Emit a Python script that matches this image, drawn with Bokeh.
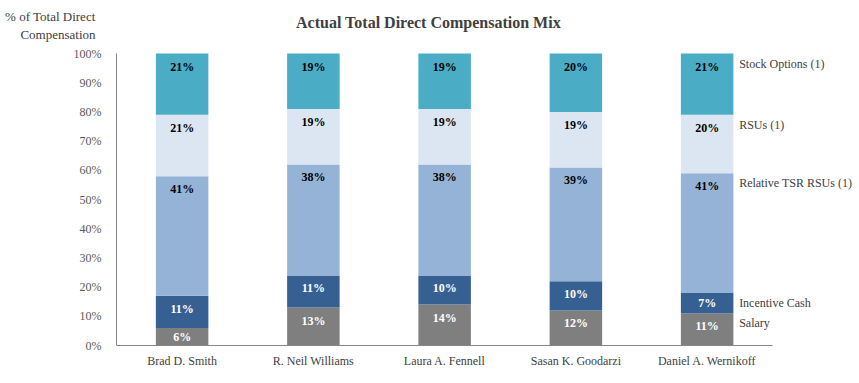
from bokeh.plotting import figure
from bokeh.models import ColumnDataSource, FixedTicker, PrintfTickFormatter, LinearAxis, Range1d
from bokeh.core.properties import value
from bokeh.embed import file_html
from bokeh.resources import INLINE

executives = ["Brad D. Smith", "R. Neil Williams", "Laura A. Fennell", "Sasan K. Goodarzi", "Daniel A. Wernikoff"]
components = ["Salary", "Incentive Cash", "Relative TSR RSUs (1)", "RSUs (1)", "Stock Options (1)"]
salary = [6, 13, 14, 12, 11]
incentive_cash = [11, 11, 10, 10, 7]
relative_tsr_rsus = [41, 38, 38, 39, 41]
rsus = [21, 19, 19, 19, 20]
stock_options = [21, 19, 19, 20, 21]
y_ticks = [0, 10, 20, 30, 40, 50, 60, 70, 80, 90, 100]
title_text = "Actual Total Direct Compensation  Mix"
y_title_text = "% of Total Direct\nCompensation"

colors = ["#7f7f7f", "#376092", "#95b3d7", "#dce6f2", "#4bacc6"]
label_colors = ["white", "white", "black", "black", "black"]
series = [salary, incentive_cash, relative_tsr_rsus, rsus, stock_options]

SERIF = "Liberation Serif"

# layout (pixels)
W, H = 857, 375
LEFT = 116          # frame left (y axis line)
AXIS_Y = 345        # pixel row of 0%
TOP100 = 53         # pixel row of 100%
CAT_PX = 131.25     # pixels per category
PX_PER_PCT = (AXIS_Y - TOP100) / 100.0

n = len(executives)
x_end = (W - LEFT) / CAT_PX
y_end = AXIS_Y / PX_PER_PCT

p = figure(x_range=Range1d(0, x_end), y_range=Range1d(0, y_end), width=W, height=H,
           output_backend="svg", toolbar_location=None,
           min_border_left=LEFT, min_border_right=0, min_border_top=0,
           min_border_bottom=H - AXIS_Y)
p.outline_line_color = None
p.xgrid.grid_line_color = None
p.ygrid.grid_line_color = None

xc = [i + 0.5 for i in range(n)]
bottoms = [0] * n
right_y, right_t = [], []
for name, vals, col, lc in zip(components, series, colors, label_colors):
    tops = [b + v for b, v in zip(bottoms, vals)]
    src = ColumnDataSource(dict(
        x=xc, bottom=bottoms, top=tops,
        ly=[t - min(13 / PX_PER_PCT, v / 2) for t, v in zip(tops, vals)],
        txt=[f"{v}%" for v in vals]))
    p.vbar(x="x", bottom="bottom", top="top", width=0.4, source=src,
           fill_color=col, line_color=None)
    p.text(x="x", y="ly", text="txt", source=src, text_align="center",
           text_baseline="middle", text_font=value(SERIF), text_font_style="bold",
           text_font_size="12px", text_color=lc)
    right_y.append(tops[-1] - 10 / PX_PER_PCT)
    right_t.append(name)
    bottoms = tops

# component names to the right of the last bar
p.text(x=[xc[-1]] * len(right_t), y=right_y, text=right_t, x_offset=32,
       text_align="left", text_baseline="middle", text_font=value(SERIF),
       text_font_size="12px", text_color="#404040")

# chart title
p.text(x=[(430 - LEFT) / CAT_PX], y=[(AXIS_Y - 22) / PX_PER_PCT], text=[title_text],
       text_align="center", text_baseline="middle", text_font=value(SERIF),
       text_font_style="bold", text_font_size="16px", text_color="#404040")

# axes
p.yaxis.ticker = FixedTicker(ticks=y_ticks)
p.yaxis.formatter = PrintfTickFormatter(format="%d%%")
p.yaxis.bounds = (0, 100)
p.xaxis.ticker = FixedTicker(ticks=xc)
p.xaxis.major_label_overrides = {x: name for x, name in zip(xc, executives)}
p.xaxis.bounds = (0, n)
for ax in (p.xaxis, p.yaxis):
    ax.axis_line_color = "#868686"
    ax.major_tick_line_color = None
    ax.minor_tick_line_color = None
    ax.major_label_text_font = SERIF
    ax.major_label_text_font_size = "12px"
    ax.major_label_text_color = "#595959"
p.yaxis.major_label_standoff = 9
p.xaxis.major_label_standoff = 2
p.xaxis.major_label_text_color = "#404040"

# y-axis title, set at the top left like the original
ytitle_axis = LinearAxis(ticker=FixedTicker(ticks=[(AXIS_Y - 25) / PX_PER_PCT]),
                         major_label_overrides={(AXIS_Y - 25) / PX_PER_PCT: y_title_text},
                         axis_line_color=None, major_tick_line_color=None,
                         minor_tick_line_color=None, major_label_standoff=-31,
                         major_label_text_font=SERIF, major_label_text_font_size="13px",
                         major_label_text_color="#404040")
p.add_layout(ytitle_axis, "left")

open("out.html", "w").write(file_html(p, INLINE))
